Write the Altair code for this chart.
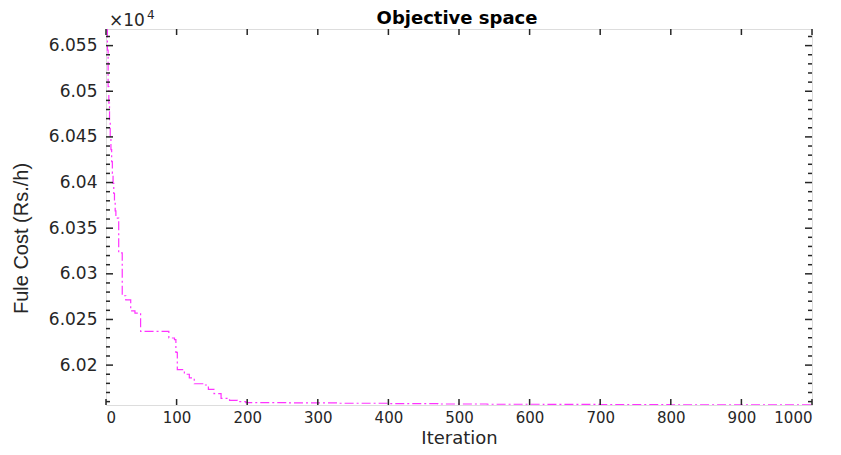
import altair as alt
import pandas as pd

# Convergence curve (best fuel cost so far, Rs./h)
iterations = [1, 2, 3, 4, 5, 6, 7, 8, 9, 10, 11, 12, 13, 14, 18, 23, 28, 35, 41, 49,
              89, 97, 99, 101, 111, 118, 125, 137, 145, 153, 163, 175, 186, 198,
              260, 330, 400, 470, 540, 620, 700, 800, 900, 1000]
fuel_cost = [60568, 60545, 60505, 60487, 60468, 60450, 60436, 60423, 60410, 60399,
             60388, 60378, 60369, 60361, 60323, 60276, 60271.5, 60259.5, 60257, 60237,
             60229.7, 60228, 60214, 60195, 60190, 60186, 60179.6, 60178.2, 60173.4,
             60168.7, 60163.6, 60161.4, 60160, 60158.9,
             60158.6, 60158.2, 60157.8, 60157.4, 60157.1, 60156.9, 60156.7, 60156.5,
             60156.4, 60156.3]

x_ticks = [0, 100, 200, 300, 400, 500, 600, 700, 800, 900, 1000]
y_major = [60200, 60250, 60300, 60350, 60400, 60450, 60500, 60550]
y_minor = [v for v in range(60160, 60570, 10) if v not in y_major]

X_DOMAIN = [0, 1000]
Y_DOMAIN = [60156.3, 60568.2]

W, H = 706, 376
AXC = "#262626"

df = pd.DataFrame({"Iteration": iterations, "Cost": fuel_cost})
xt = pd.DataFrame({"x": x_ticks})
ytM = pd.DataFrame({"y": y_major})
ytm = pd.DataFrame({"y": y_minor})

xs = alt.Scale(domain=X_DOMAIN, nice=False, zero=False)
ys = alt.Scale(domain=Y_DOMAIN, nice=False, zero=False)

line = alt.Chart(df).mark_line(
    interpolate="step-after", color="#ff33ff", strokeWidth=1.2,
    strokeDash=[9, 3, 2, 3], clip=True
).encode(
    x=alt.X("Iteration:Q", scale=xs,
            axis=alt.Axis(values=x_ticks, format="d", title="Iteration", grid=False,
                          domain=False, ticks=False, labelPadding=5,
                          labelFont="DejaVu Sans", labelFontSize=15, labelColor=AXC,
                          titleFont="DejaVu Sans", titleFontSize=18,
                          titleFontWeight="normal", titleColor=AXC,
                          titleBaseline="alphabetic", titleX=W / 2, titleY=38)),
    y=alt.Y("Cost:Q", scale=ys,
            axis=alt.Axis(values=y_major, title="Fule Cost (Rs./h)", grid=False,
                          domain=False, ticks=False, labelPadding=9,
                          labelExpr="format(datum.value/10000, '.3~f')",
                          labelFont="DejaVu Sans", labelFontSize=17, labelColor=AXC,
                          titleFont="Liberation Sans", titleFontSize=20,
                          titleFontWeight="normal", titleColor=AXC, titleAngle=270,
                          titleBaseline="alphabetic", titleAlign="center",
                          titleX=-79, titleY=209)),
)

tick_style = dict(color=AXC, strokeWidth=1.5)

xb = alt.Chart(xt).mark_rule(**tick_style).encode(
    x=alt.X("x:Q", scale=xs), y=alt.value(H), y2=alt.value(H - 6))
xtop = alt.Chart(xt).mark_rule(**tick_style).encode(
    x=alt.X("x:Q", scale=xs), y=alt.value(0), y2=alt.value(6))
yl = alt.Chart(ytM).mark_rule(**tick_style).encode(
    y=alt.Y("y:Q", scale=ys), x=alt.value(0), x2=alt.value(7))
yr = alt.Chart(ytM).mark_rule(**tick_style).encode(
    y=alt.Y("y:Q", scale=ys), x=alt.value(W - 7), x2=alt.value(W))
ylm = alt.Chart(ytm).mark_rule(**tick_style).encode(
    y=alt.Y("y:Q", scale=ys), x=alt.value(0), x2=alt.value(4))
yrm = alt.Chart(ytm).mark_rule(**tick_style).encode(
    y=alt.Y("y:Q", scale=ys), x=alt.value(W - 4), x2=alt.value(W))

exp_base = alt.Chart(pd.DataFrame({"t": ["\u00d710"]})).mark_text(
    align="left", baseline="alphabetic", font="DejaVu Sans", fontSize=17, color=AXC
).encode(text="t:N", x=alt.value(3), y=alt.value(-3))
exp_pow = alt.Chart(pd.DataFrame({"t": ["4"]})).mark_text(
    align="left", baseline="alphabetic", font="DejaVu Sans", fontSize=12, color=AXC
).encode(text="t:N", x=alt.value(41), y=alt.value(-10))

title = alt.Chart(pd.DataFrame({"t": ["Objective space"]})).mark_text(
    align="center", baseline="alphabetic", font="DejaVu Sans", fontSize=18,
    fontWeight="bold", color="#000000"
).encode(text="t:N", x=alt.value(W / 2 - 2), y=alt.value(-5))

chart = alt.layer(line, xb, xtop, yl, yr, ylm, yrm, exp_base, exp_pow, title).properties(
    width=W, height=H,
    autosize=alt.AutoSizeParams(type="none"),
    padding={"left": 98, "top": 21, "right": 21, "bottom": 42},
).configure_view(stroke=AXC, strokeWidth=1.5).configure(background="white")

chart.save("out.html", embed_options={"renderer": "svg", "actions": False})
